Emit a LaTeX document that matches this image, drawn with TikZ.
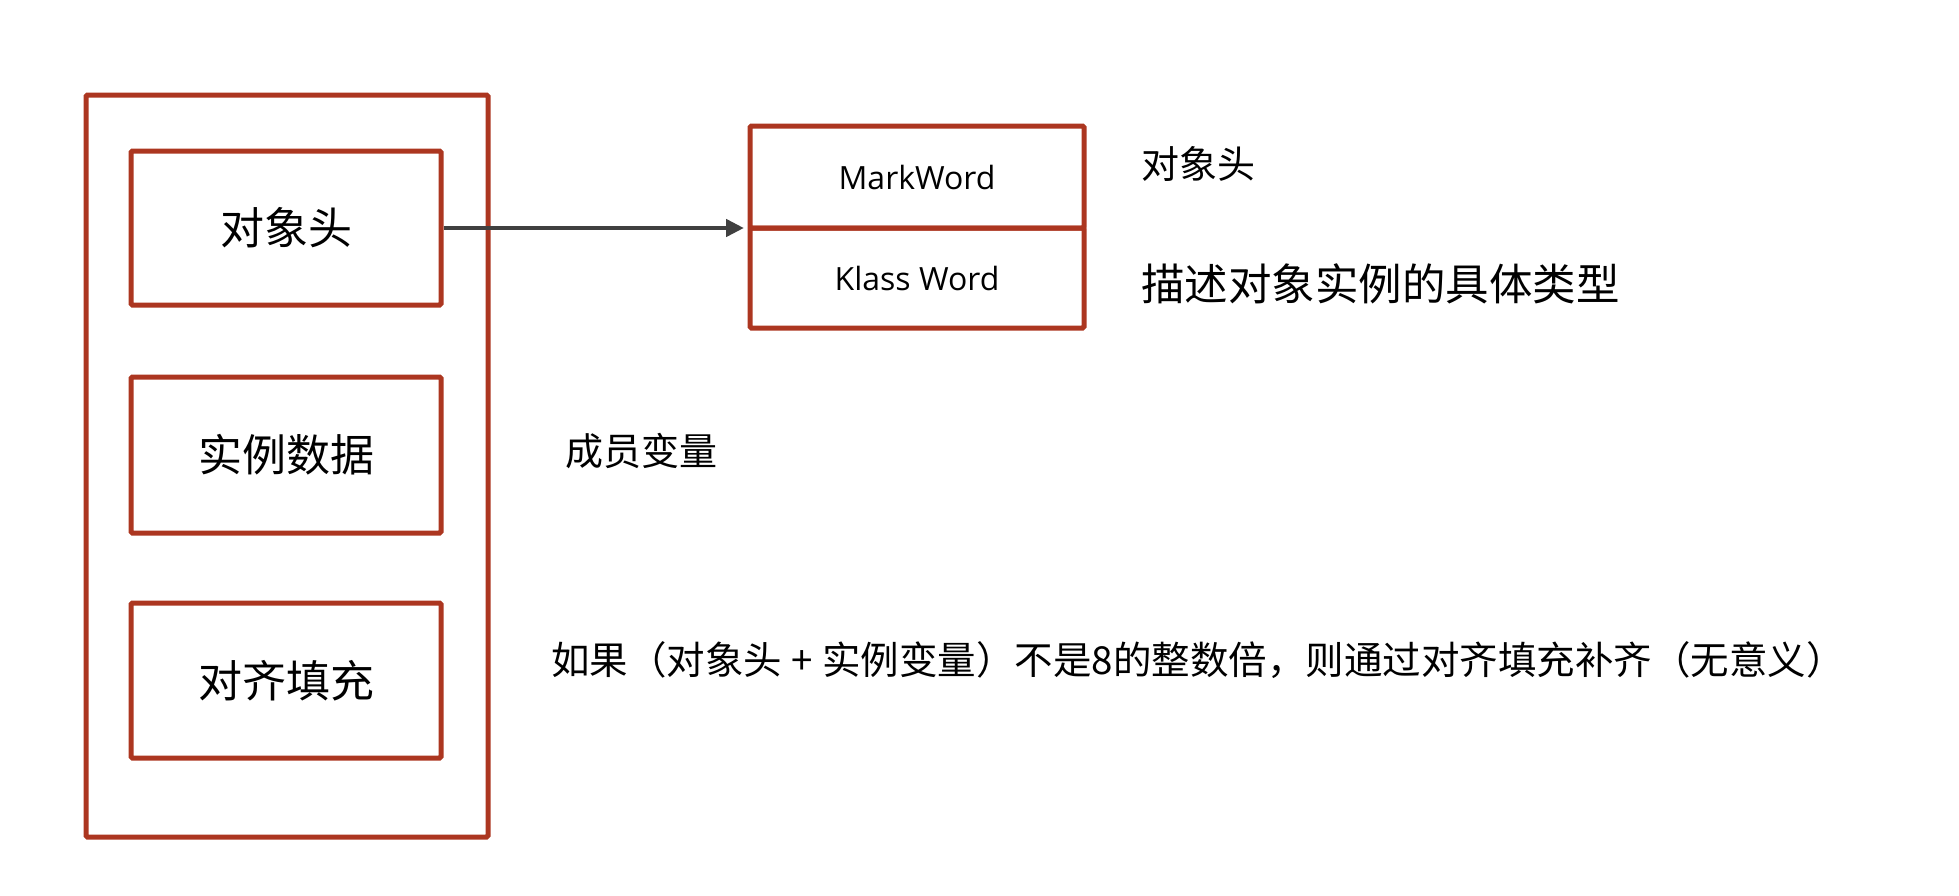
\documentclass[tikz,border=0pt]{standalone}
\usepackage{fontspec}
\setmainfont{Noto Sans CJK SC}
\newfontfamily\latinfont{Open Sans}
\usetikzlibrary{arrows.meta}
\definecolor{boxred}{HTML}{AC3620}
\definecolor{arrowgray}{HTML}{404040}
\tikzset{
  boxline/.style={draw=boxred, line width=5pt, rounded corners=1.5pt},
  partbox/.style={boxline, minimum width=310pt, inner sep=0pt, font=\fontsize{44}{50}\selectfont},
  wordbox/.style={boxline, minimum width=334pt, inner sep=0pt, font=\latinfont\fontsize{32}{36}\selectfont},
  note/.style={anchor=west, inner sep=0pt, text=black},
  conn/.style={draw=arrowgray, line width=4.5pt, -{Triangle[length=18pt,width=17pt]}}
}
\begin{document}
\begin{tikzpicture}[x=1pt,y=-1pt]
\useasboundingbox (0,0) rectangle (1959,895);
% outer frame
\draw[boxline] (86,95) rectangle (488,837);
% inner parts
\node[partbox, minimum height=154pt] (head) at (286,228) {对象头};
\node[partbox, minimum height=156pt] (data) at (286,455) {实例数据};
\node[partbox, minimum height=155pt] (pad) at (286,680.5) {对齐填充};
% header structure
\node[wordbox, minimum height=102pt] (mark) at (917,177) {MarkWord};
\node[wordbox, minimum height=100pt] (klass) at (917,278) {Klass Word};
\coordinate (tgt) at (744,228);
\draw[conn] (head.east) -- (tgt);
% notes
\node[note, font=\fontsize{38}{44}\selectfont] (n1) at (1141,164) {对象头};
\node[note, font=\fontsize{43.5}{50}\selectfont] (n2) at (1141,284) {描述对象实例的具体类型};
\node[note, font=\fontsize{38}{44}\selectfont] (n3) at (565,451) {成员变量};
\node[note, font=\fontsize{38.5}{44}\selectfont] (n4) at (551,660) {如果（对象头\hbox to 40pt{\hfil+\hfil}实例变量）不是8的整数倍，则通过对齐填充补齐（无意义）};
\end{tikzpicture}
\end{document}
